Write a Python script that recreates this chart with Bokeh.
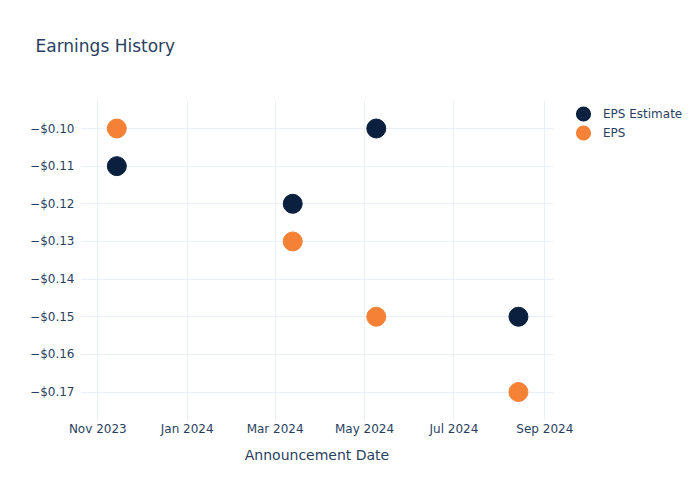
import pandas as pd
from bokeh.plotting import figure
from bokeh.models import (Legend, LegendItem, ColumnDataSource, Range1d, Title,
                          MonthsTicker, SingleIntervalTicker, DatetimeTickFormatter,
                          CustomJSTickFormatter)
from bokeh.embed import file_html
from bokeh.resources import INLINE

announce_dates = ["2023-11-14", "2024-03-13", "2024-05-09", "2024-08-14"]
eps_estimate = [-0.11, -0.12, -0.10, -0.15]
eps_actual = [-0.10, -0.13, -0.15, -0.17]

FONT = "DejaVu Sans"
TXT = "#2a3f5f"
GRID = "#ebf0f8"
NAVY = "#0b1f3f"
ORANGE = "#f58137"

dates = pd.to_datetime(announce_dates)
src = ColumnDataSource(dict(date=dates, est=eps_estimate, eps=eps_actual,
                            zero=[0] * len(eps_actual)))

x0 = pd.Timestamp("2023-10-20 05:00").value / 1e6
x1 = pd.Timestamp("2024-09-06 22:00").value / 1e6

p = figure(width=700, height=500, output_backend="svg", toolbar_location=None,
           x_axis_type="datetime",
           x_range=Range1d(x0, x1),
           y_range=Range1d(-0.17757, -0.09256),
           frame_width=473, frame_height=320,
           min_border_left=80, min_border_right=147, min_border_top=100, min_border_bottom=80)

p.title.text = "Earnings History"
p.title.text_font = FONT
p.title.text_font_size = "17px"
p.title.text_font_style = "normal"
p.title.text_color = TXT
p.title.offset = -45
p.title.standoff = 20

spacer = Title(text=" ", text_font_size="17px", standoff=14)
p.add_layout(spacer, "above")

p.outline_line_color = None
p.background_fill_color = "white"
p.border_fill_color = "white"

p.xgrid.grid_line_color = GRID
p.ygrid.grid_line_color = GRID

p.xaxis.ticker = MonthsTicker(months=[0, 2, 4, 6, 8, 10])
p.xaxis.formatter = DatetimeTickFormatter(months="%b %Y", days="%b %Y")
p.yaxis.ticker = SingleIntervalTicker(interval=0.01)
p.yaxis.formatter = CustomJSTickFormatter(code="return '\\u2212$' + Math.abs(tick).toFixed(2);")

for ax in (p.xaxis, p.yaxis):
    ax.axis_line_color = None
    ax.major_tick_line_color = None
    ax.minor_tick_line_color = None
    ax.major_tick_out = 0
    ax.major_tick_in = 0
    ax.major_label_text_font = FONT
    ax.major_label_text_font_size = "12px"
    ax.major_label_text_color = TXT

p.yaxis.major_label_standoff = 2
p.xaxis.major_label_standoff = 1
p.xaxis.axis_label = "Announcement Date"
p.xaxis.axis_label_text_font = FONT
p.xaxis.axis_label_text_font_size = "14px"
p.xaxis.axis_label_text_font_style = "normal"
p.xaxis.axis_label_text_color = TXT
p.xaxis.axis_label_standoff = 8

r1 = p.scatter("date", "est", source=src, size=19, color=NAVY, line_color=NAVY)
r2 = p.scatter("date", "eps", source=src, size=19, color=ORANGE, line_color=ORANGE)

# zero-radius annuli: invisible in the plot, they only enlarge the legend swatches
a1 = p.annulus("date", "est", source=src, inner_radius="zero", outer_radius="zero",
               fill_color=NAVY, line_color=None)
a2 = p.annulus("date", "eps", source=src, inner_radius="zero", outer_radius="zero",
               fill_color=ORANGE, line_color=None)

legend = Legend(items=[LegendItem(label="EPS Estimate", renderers=[a1, r1]),
                       LegendItem(label="EPS", renderers=[a2, r2])],
                location=(10, 278), border_line_color=None, background_fill_alpha=0,
                label_text_font=FONT, label_text_font_size="12px", label_text_color=TXT,
                glyph_width=40, glyph_height=19, label_standoff=0, label_height=19,
                spacing=0, padding=0, margin=0)
p.add_layout(legend, "right")

open("out.html", "w").write(file_html(p, INLINE))
